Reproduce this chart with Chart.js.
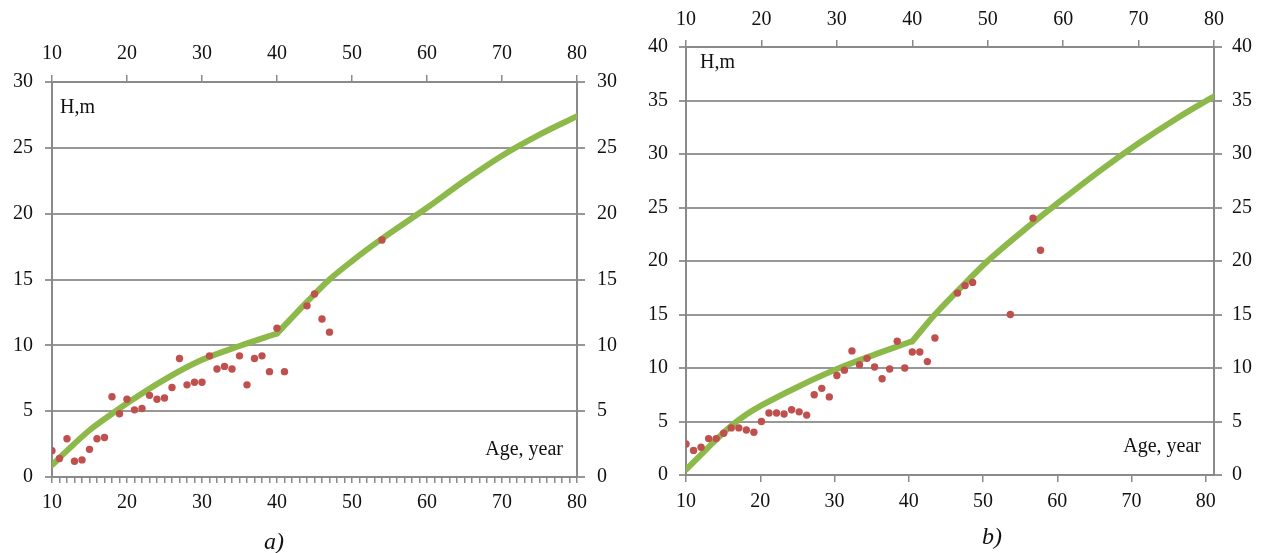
<!DOCTYPE html>
<html>
<head>
<meta charset="utf-8">
<script src="https://cdn.jsdelivr.net/npm/chart.js@4.4.1/dist/chart.umd.min.js"></script>
<style>
  html, body { margin: 0; padding: 0; background: #fff; }
  body { width: 1265px; height: 553px; position: relative; overflow: hidden; }
  canvas { position: absolute; top: 0; }
  #chartA { left: 0; }
  #chartB { left: 630px; }
</style>
</head>
<body>
<canvas id="chartA" width="630" height="553"></canvas>
<canvas id="chartB" width="635" height="553"></canvas>
<script>
// Stand a) — measured tree heights by age
const ageA = [10, 11, 12, 13, 14, 15, 16, 17, 18, 19, 20, 21, 22, 23, 24, 25, 26, 27, 28, 29, 30,
              31, 32, 33, 34, 35, 36, 37, 38, 39, 40, 41, 44, 45, 46, 47, 54];
const heightA = [2.0, 1.4, 2.9, 1.2, 1.3, 2.1, 2.9, 3.0, 6.1, 4.8, 5.9, 5.1, 5.2, 6.2, 5.9, 6.0, 6.8, 9.0, 7.0, 7.2, 7.2,
                 9.2, 8.2, 8.4, 8.2, 9.2, 7.0, 9.0, 9.2, 8.0, 11.3, 8.0, 13.0, 13.9, 12.0, 11.0, 18.0];
// Stand a) — growth curve, young phase (to 40 years) and mature phase (from 40 years)
const youngAgeA = [10, 12, 15, 18, 20, 25, 30, 35, 40];
const youngHeightA = [0.9, 2.0, 3.55, 4.8, 5.6, 7.4, 8.9, 9.95, 10.9];
const matureAgeA = [40, 44, 47, 50, 54, 60, 65, 70, 75, 80];
const matureHeightA = [10.9, 13.3, 15.0, 16.4, 18.1, 20.45, 22.5, 24.4, 26.0, 27.4];

// Stand b) — measured tree heights by age
const ageB = [10, 11, 12, 13, 14, 15, 16, 17, 18, 19, 20, 21, 22, 23, 24, 25, 26, 27, 28, 29, 30,
              31, 32, 33, 34, 35, 36, 37, 38, 39, 40, 41, 42, 43, 46, 47, 48, 53, 56, 57];
const heightB = [2.9, 2.3, 2.6, 3.4, 3.4, 3.9, 4.4, 4.4, 4.2, 4.0, 5.0, 5.8, 5.8, 5.7, 6.1, 5.9, 5.6, 7.5, 8.1, 7.3, 9.3,
                 9.8, 11.6, 10.3, 10.9, 10.1, 9.0, 9.9, 12.5, 10.0, 11.5, 11.5, 10.6, 12.8, 17.0, 17.7, 18.0, 15.0, 24.0, 21.0];
// Stand b) — growth curve, young phase and mature phase
const youngAgeB = [10, 12, 14, 16, 18, 20, 25, 30, 35, 40];
const youngHeightB = [0.5, 1.9, 3.3, 4.6, 5.65, 6.5, 8.3, 9.9, 11.25, 12.5];
const matureAgeB = [40, 43, 46, 50, 55, 60, 65, 70, 75, 80];
const matureHeightB = [12.5, 15.0, 17.2, 20.0, 23.0, 25.8, 28.5, 31.0, 33.3, 35.4];

// Axis ticks and ranges
const ageTicksA = [10, 20, 30, 40, 50, 60, 70, 80];
const ageTicksB = [10, 20, 30, 40, 50, 60, 70, 80];
const heightMaxA = 30;
const heightMaxB = 40;
const heightStep = 5;

const axisGray = '#8a8a8a';
const gridGray = '#979797';
const dotRed = '#c0504d';
const curveGreen = '#8db94a';
const tickFont = { family: 'Liberation Serif', size: 20 };
const tickColor = '#111';

function pairs(xs, ys) { return xs.map((x, i) => ({ x: x, y: ys[i] })); }
function fixWidth(w) { return s => { s.width = w; }; }
function fixHeight(h) { return s => { s.height = h; }; }

// Labels inside the plot plus the panel caption
const annotations = {
  id: 'annotations',
  afterDraw(chart, args, opts) {
    const { ctx, chartArea } = chart;
    ctx.save();
    ctx.fillStyle = '#111';
    ctx.textBaseline = 'middle';
    ctx.font = '20px "Liberation Serif"';
    ctx.textAlign = 'left';
    ctx.fillText('H,m', chartArea.left + opts.hx, chartArea.top + opts.hy);
    ctx.textAlign = 'right';
    ctx.fillText('Age, year', chartArea.right - opts.ax, chartArea.bottom - opts.ay);
    ctx.textAlign = 'center';
    ctx.font = 'italic 24px "Liberation Serif"';
    ctx.fillText(opts.caption, opts.cx, opts.cy);
    ctx.restore();
  }
};

function curveSet(xs, ys) {
  return {
    type: 'line', data: pairs(xs, ys), xAxisID: 'xt', yAxisID: 'y',
    borderColor: curveGreen, borderWidth: 6, pointRadius: 0, fill: false,
    borderCapStyle: 'round', borderJoinStyle: 'round',
    cubicInterpolationMode: 'monotone', order: 1
  };
}

function makeChart(id, cfg) {
  return new Chart(document.getElementById(id), {
    data: {
      datasets: [
        {
          type: 'scatter', data: pairs(cfg.ages, cfg.heights), xAxisID: 'xt', yAxisID: 'y',
          backgroundColor: dotRed, borderWidth: 0, pointRadius: 3.7, order: 0
        },
        curveSet(cfg.youngAges, cfg.youngHeights),
        curveSet(cfg.matureAges, cfg.matureHeights)
      ]
    },
    options: {
      responsive: false,
      animation: false,
      devicePixelRatio: 1,
      layout: { padding: 0 },
      plugins: {
        legend: { display: false },
        tooltip: { enabled: false },
        annotations: cfg.notes
      },
      scales: {
        x: {
          type: 'linear', position: 'bottom', min: 10, max: cfg.bottomMax,
          afterFit: fixHeight(cfg.bottomH),
          afterBuildTicks: s => {
            s.ticks = cfg.minorTicks
              ? Array.from({ length: 71 }, (_, i) => ({ value: 10 + i }))
              : cfg.ageTicks.map(v => ({ value: v }));
          },
          ticks: {
            autoSkip: false, maxRotation: 0, font: tickFont, color: tickColor, padding: cfg.bottomPad,
            callback: v => (v % 10 === 0 ? String(v) : '')
          },
          grid: { drawOnChartArea: false, color: axisGray, lineWidth: 1.5, tickLength: cfg.minorTicks ? 6 : 7 },
          border: { display: true, color: axisGray, width: 2 }
        },
        xt: {
          type: 'linear', position: 'top', min: 10, max: 80,
          afterFit: fixHeight(cfg.topH),
          afterBuildTicks: s => { s.ticks = cfg.ageTicks.map(v => ({ value: v })); },
          ticks: { autoSkip: false, maxRotation: 0, font: tickFont, color: tickColor, padding: cfg.topPad },
          grid: { drawOnChartArea: false, color: axisGray, lineWidth: 1.5, tickLength: 7 },
          border: { display: true, color: axisGray, width: 2 }
        },
        y: {
          type: 'linear', position: 'left', min: 0, max: cfg.yMax,
          afterFit: fixWidth(cfg.leftW),
          ticks: { stepSize: heightStep, font: tickFont, color: tickColor, padding: cfg.leftPad },
          grid: { color: gridGray, lineWidth: 2, tickLength: 7, drawOnChartArea: true },
          border: { display: true, color: axisGray, width: 2 }
        },
        y2: {
          type: 'linear', position: 'right', min: 0, max: cfg.yMax,
          afterFit: fixWidth(cfg.rightW),
          ticks: { stepSize: heightStep, font: tickFont, color: tickColor, padding: cfg.rightPad },
          grid: { drawOnChartArea: false, color: gridGray, lineWidth: 2, tickLength: 8 },
          border: { display: true, color: axisGray, width: 2 }
        }
      }
    },
    plugins: [annotations]
  });
}

makeChart('chartA', {
  ages: ageA, heights: heightA,
  youngAges: youngAgeA, youngHeights: youngHeightA, matureAges: matureAgeA, matureHeights: matureHeightA,
  ageTicks: ageTicksA, yMax: heightMaxA, bottomMax: 80, minorTicks: true,
  leftW: 52, rightW: 53, topH: 82, bottomH: 76,
  leftPad: 12, rightPad: 12, topPad: 9, bottomPad: 8,
  notes: { hx: 8, hy: 26, ax: 14, ay: 27, caption: 'a)', cx: 274, cy: 543 }
});

makeChart('chartB', {
  ages: ageB, heights: heightB,
  youngAges: youngAgeB, youngHeights: youngHeightB, matureAges: matureAgeB, matureHeights: matureHeightB,
  ageTicks: ageTicksB, yMax: heightMaxB, bottomMax: 81.1, minorTicks: false,
  leftW: 56, rightW: 51, topH: 47, bottomH: 78,
  leftPad: 11, rightPad: 10, topPad: 8, bottomPad: 8,
  notes: { hx: 14, hy: 16, ax: 13, ay: 28, caption: 'b)', cx: 992 - 630, cy: 538 }
});
</script>
</body>
</html>
